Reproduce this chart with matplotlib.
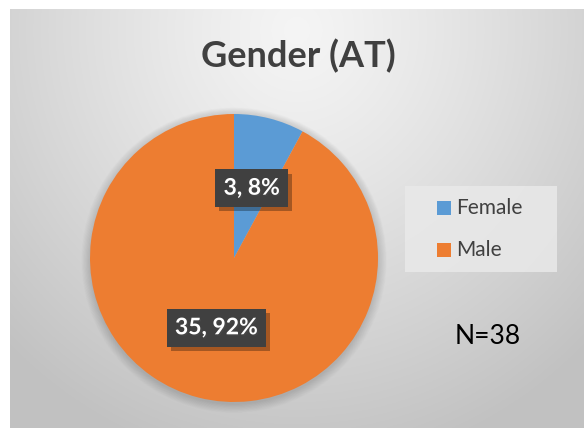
import numpy as np
import matplotlib
matplotlib.use("Agg")
import matplotlib.pyplot as plt
import matplotlib.patheffects as pe
from matplotlib.patches import Circle, Rectangle

plt.rcParams['font.family'] = ['Lato', 'DejaVu Sans']

# data
categories = ['Female', 'Male']
counts = [3, 35]
colors = ['#5B9BD5', '#ED7D31']
title = 'Gender (AT)'
note = 'N=38'

W, H = 584, 428
fig = plt.figure(figsize=(W / 100, H / 100), dpi=100)
fig.patch.set_facecolor('white')

# radial gray background of the chart area
bg = fig.add_axes([10 / W, 0, (W - 10) / W, (H - 9) / H])
bg.set_axis_off()
yy, xx = np.mgrid[0:1:300j, 0:1:400j]
d = np.sqrt(((xx - 0.5) / 0.72) ** 2 + ((yy - 0.05) / 1.05) ** 2)
d = np.clip(d, 0, 1)
top, edge = 0.96, 0.76
g = top + (edge - top) * d ** 1.2
bg.imshow(np.dstack([g, g, g]), aspect='auto', extent=[0, 1, 1, 0])
bg.set_xlim(0, 1)
bg.set_ylim(1, 0)

# pie axes
cx, cy, r = 234, 258, 144
m = 1.08
ax = fig.add_axes([(cx - r * m) / W, (H - cy - r * m) / H,
                   2 * r * m / W, 2 * r * m / H])
ax.set_axis_off()

# soft shadow under the pie
for k in range(16):
    ax.add_patch(Circle((0, -0.015), 1.0 + k * 0.004, color='#808080',
                        alpha=0.022, lw=0, zorder=0))

total = sum(counts)


def fmt(p):
    n = int(round(p * total / 100.0))
    return '{}, {:.0f}%'.format(n, p)


wedges, texts, autotexts = ax.pie(counts, colors=colors, startangle=90,
                                  counterclock=False, autopct=fmt,
                                  pctdistance=0.5, radius=1.0,
                                  wedgeprops=dict(linewidth=0),
                                  textprops=dict(color='white', fontsize=16.5,
                                                 fontweight='bold'))
ax.set_xlim(-m, m)
ax.set_ylim(-m, m)

for t in autotexts:
    t.set_bbox(dict(boxstyle='square,pad=0.36', facecolor='#404040',
                    edgecolor='none'))
    t.get_bbox_patch().set_path_effects([
        pe.withSimplePatchShadow(offset=(3, -3), shadow_rgbFace='black',
                                 alpha=0.3)])
    t.set_path_effects([pe.withSimplePatchShadow(offset=(1, -1), alpha=0.5)])

# title
fig.text(298 / W, 1 - 56 / H, title, ha='center', va='center',
         fontsize=26, fontweight='bold', color='#404040')

# legend box
fig.patches.append(Rectangle((405 / W, 1 - 272 / H), 152 / W, 86 / H,
                             transform=fig.transFigure, facecolor='#e9e9e9',
                             edgecolor='none', alpha=0.85, zorder=1))
for i, (lab, c) in enumerate(zip(categories, colors)):
    y = 208 + i * 42
    fig.patches.append(Rectangle((437 / W, 1 - (y + 7) / H), 14 / W, 14 / H,
                                 transform=fig.transFigure, facecolor=c,
                                 edgecolor='none', zorder=2))
    fig.text(456 / W, 1 - y / H, lab, ha='left', va='center', fontsize=15,
             color='#404040', zorder=3)

fig.text(488 / W, 1 - 337 / H, note, ha='center', va='center',
         fontsize=19, color='black')

fig.savefig('out.png', dpi=100)
